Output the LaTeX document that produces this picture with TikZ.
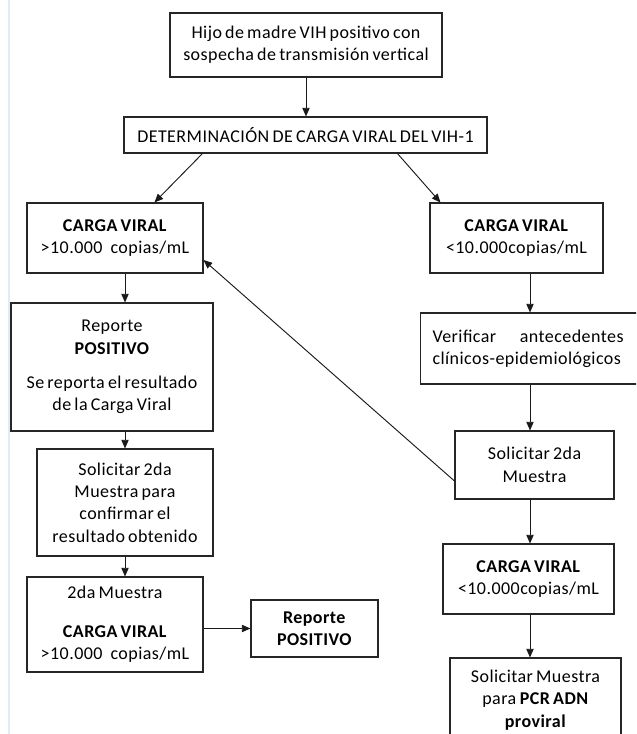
\documentclass[tikz,border=0pt]{standalone}
\usepackage{fontspec}
\setmainfont{Carlito}[LetterSpace=2.5, WordSpace=0.7]
\usetikzlibrary{arrows.meta}
\begin{document}
\begin{tikzpicture}[x=0.75pt,y=-0.75pt,
  box/.style={draw=black!85, line width=0.8pt, align=center, inner sep=0pt,
    font=\fontsize{13.5}{16.8}\selectfont, text=black},
  arr/.style={-{Triangle[length=6.5pt,width=5.5pt]}, line width=0.7pt, draw=black!90}]
\clip (0,0) rectangle (636,734);
\draw[color={rgb,255:red,226;green,234;blue,245}, line width=1.2pt] (9,0) -- (9,734);
\coordinate (colL) at (125,0);
\coordinate (colR) at (530,0);

\node[box, minimum width=204pt, minimum height=48pt] (top) at (306,45)
  {Hijo de madre VIH positivo con\\sospecha de transmisión vertical};
\node[box, minimum width=272.25pt, minimum height=27pt] (det) at (305.5,135)
  {DETERMINACIÓN DE CARGA VIRAL DEL VIH-1};
\node[box, minimum width=132pt, minimum height=52.5pt] (cvL) at (115,238)
  {\textbf{CARGA VIRAL}\\>10.000\hspace{6pt}copias/mL};
\node[box, minimum width=129.75pt, minimum height=52.5pt] (cvR) at (516.5,238)
  {\textbf{CARGA VIRAL}\\<10.000copias/mL};
\node[box, minimum width=151.5pt, minimum height=96pt] (rep) at (112,367)
  {Reporte\\\textbf{POSITIVO}\\[9pt]Se reporta el resultado\\de la Carga Viral};
\node[box, anchor=west, align=left, text width=158.25pt, inner xsep=9pt,
  minimum height=53.25pt] (ver) at (420,348.5)
  {\makebox[143.25pt][s]{Verificar\hfill antecedentes}\\clínicos-epidemiológicos};
\node[box, minimum width=119.25pt, minimum height=51pt] (sol2) at (534.5,465)
  {Solicitar 2da\\Muestra};
\node[box, minimum width=132pt, minimum height=80.25pt] (solL) at (125,502.5)
  {Solicitar 2da\\Muestra para\\confirmar el\\resultado obtenido};
\node[box, minimum width=132pt, minimum height=71.25pt] (da2) at (115,624.5)
  {2da Muestra\\[12pt]\textbf{CARGA VIRAL}\\>10.000\hspace{6pt}copias/mL};
\node[box, minimum width=95.25pt, minimum height=42.75pt] (repP) at (314.5,628.5)
  {\textbf{Reporte}\\\textbf{POSITIVO}};
\node[box, minimum width=128.25pt, minimum height=52.5pt] (cv2) at (528.5,579)
  {\textbf{CARGA VIRAL}\\<10.000copias/mL};
\node[box, minimum width=128.25pt, minimum height=63pt] (fin) at (535.5,700)
  {Solicitar Muestra\\para \textbf{PCR ADN}\\\textbf{proviral}};

\draw[arr] (top.south) -- (top.south |- det.north);
\draw[arr] ([xshift=59.25pt]det.south west) -- ([xshift=96pt]cvL.north west);
\draw[arr] ([xshift=205.5pt]det.south west) -- ([xshift=8.25pt]cvR.north west);
\draw[arr] (cvL.south -| colL) -- (rep.north -| colL);
\draw[arr] (rep.south -| colL) -- (solL.north -| colL);
\draw[arr] (solL.south -| colL) -- (da2.north -| colL);
\draw[arr] (da2.east |- repP.west) -- (repP.west);
\draw[arr] (cvR.south -| colR) -- (ver.north -| colR);
\draw[arr] (ver.south -| colR) -- (sol2.north -| colR);
\draw[arr] (sol2.south -| colR) -- (cv2.north -| colR);
\draw[arr] (cv2.south -| colR) -- (fin.north -| colR);
\draw[arr] ([yshift=-12pt]sol2.west) -- ([yshift=-16.5pt]cvL.east);
\end{tikzpicture}
\end{document}
